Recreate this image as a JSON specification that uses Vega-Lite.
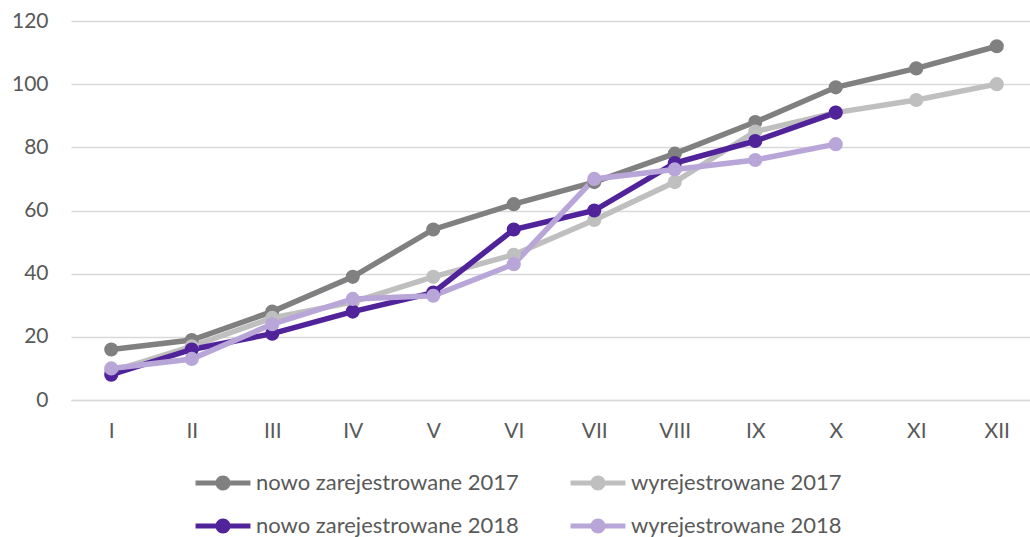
{
  "$schema": "https://vega.github.io/schema/vega-lite/v6.json",
  "autosize": {"type": "none"},
  "padding": {"left": 71, "top": 21, "right": 0, "bottom": 137},
  "width": 966,
  "height": 379,
  "background": "white",
  "config": {
    "view": {"stroke": null},
    "font": "Lato",
    "axis": {"labelFont": "Lato", "labelFontSize": 21, "labelColor": "#595959"},
    "legend": {"labelFont": "Lato", "labelFontSize": 22, "labelColor": "#595959"}
  },
  "data": {
    "values": [
      {"m": "I", "s": "nowo zarejestrowane 2017", "v": 16},
      {"m": "II", "s": "nowo zarejestrowane 2017", "v": 19},
      {"m": "III", "s": "nowo zarejestrowane 2017", "v": 28},
      {"m": "IV", "s": "nowo zarejestrowane 2017", "v": 39},
      {"m": "V", "s": "nowo zarejestrowane 2017", "v": 54},
      {"m": "VI", "s": "nowo zarejestrowane 2017", "v": 62},
      {"m": "VII", "s": "nowo zarejestrowane 2017", "v": 69},
      {"m": "VIII", "s": "nowo zarejestrowane 2017", "v": 78},
      {"m": "IX", "s": "nowo zarejestrowane 2017", "v": 88},
      {"m": "X", "s": "nowo zarejestrowane 2017", "v": 99},
      {"m": "XI", "s": "nowo zarejestrowane 2017", "v": 105},
      {"m": "XII", "s": "nowo zarejestrowane 2017", "v": 112},
      {"m": "I", "s": "wyrejestrowane 2017", "v": 9},
      {"m": "II", "s": "wyrejestrowane 2017", "v": 17},
      {"m": "III", "s": "wyrejestrowane 2017", "v": 26},
      {"m": "IV", "s": "wyrejestrowane 2017", "v": 31},
      {"m": "V", "s": "wyrejestrowane 2017", "v": 39},
      {"m": "VI", "s": "wyrejestrowane 2017", "v": 46},
      {"m": "VII", "s": "wyrejestrowane 2017", "v": 57},
      {"m": "VIII", "s": "wyrejestrowane 2017", "v": 69},
      {"m": "IX", "s": "wyrejestrowane 2017", "v": 85},
      {"m": "X", "s": "wyrejestrowane 2017", "v": 91},
      {"m": "XI", "s": "wyrejestrowane 2017", "v": 95},
      {"m": "XII", "s": "wyrejestrowane 2017", "v": 100},
      {"m": "I", "s": "nowo zarejestrowane 2018", "v": 8},
      {"m": "II", "s": "nowo zarejestrowane 2018", "v": 16},
      {"m": "III", "s": "nowo zarejestrowane 2018", "v": 21},
      {"m": "IV", "s": "nowo zarejestrowane 2018", "v": 28},
      {"m": "V", "s": "nowo zarejestrowane 2018", "v": 34},
      {"m": "VI", "s": "nowo zarejestrowane 2018", "v": 54},
      {"m": "VII", "s": "nowo zarejestrowane 2018", "v": 60},
      {"m": "VIII", "s": "nowo zarejestrowane 2018", "v": 75},
      {"m": "IX", "s": "nowo zarejestrowane 2018", "v": 82},
      {"m": "X", "s": "nowo zarejestrowane 2018", "v": 91},
      {"m": "I", "s": "wyrejestrowane 2018", "v": 10},
      {"m": "II", "s": "wyrejestrowane 2018", "v": 13},
      {"m": "III", "s": "wyrejestrowane 2018", "v": 24},
      {"m": "IV", "s": "wyrejestrowane 2018", "v": 32},
      {"m": "V", "s": "wyrejestrowane 2018", "v": 33},
      {"m": "VI", "s": "wyrejestrowane 2018", "v": 43},
      {"m": "VII", "s": "wyrejestrowane 2018", "v": 70},
      {"m": "VIII", "s": "wyrejestrowane 2018", "v": 73},
      {"m": "IX", "s": "wyrejestrowane 2018", "v": 76},
      {"m": "X", "s": "wyrejestrowane 2018", "v": 81}
    ]
  },
  "encoding": {
    "x": {
      "field": "m", "type": "ordinal",
      "sort": ["I","II","III","IV","V","VI","VII","VIII","IX","X","XI","XII"],
      "scale": {"type": "point", "padding": 0.5},
      "axis": {"title": null, "labelAngle": 0, "ticks": false, "domain": true, "domainColor": "#d9d9d9", "domainWidth": 1.5, "labelPadding": 20}
    },
    "y": {
      "field": "v", "type": "quantitative",
      "scale": {"domain": [0, 120], "nice": false},
      "axis": {"title": null, "values": [0,20,40,60,80,100,120], "ticks": false, "domain": false, "gridColor": "#d9d9d9", "gridWidth": 1.5, "labelPadding": 23}
    },
    "color": {
      "field": "s", "type": "nominal",
      "scale": {
        "domain": ["nowo zarejestrowane 2017", "wyrejestrowane 2017", "nowo zarejestrowane 2018", "wyrejestrowane 2018"],
        "range": ["#808080", "#bfbfbf", "#51239b", "#b9a6d9"]
      },
      "legend": {
        "title": null,
        "orient": "none",
        "direction": "horizontal",
        "legendX": 137,
        "legendY": 447,
        "columns": 2,
        "columnPadding": 51,
        "rowPadding": 17,
        "labelLimit": 0,
        "symbolType": "M-1.83,-0.17H1.83V0.17H-1.83Z M-0.5,0A0.5,0.5 0 1,1 0.5,0A0.5,0.5 0 1,1 -0.5,0Z",
        "symbolSize": 900,
        "symbolStrokeWidth": 0,
        "labelOffset": 18,
        "encode": {"symbols": {"update": {"fill": {"scale": "color", "field": "value"}, "strokeWidth": {"value": 0}, "opacity": {"value": 1}}}}
      }
    }
  },
  "layer": [
    {"mark": {"type": "line", "strokeWidth": 5.5}},
    {"mark": {"type": "point", "filled": true, "size": 200, "opacity": 1}}
  ]
}
